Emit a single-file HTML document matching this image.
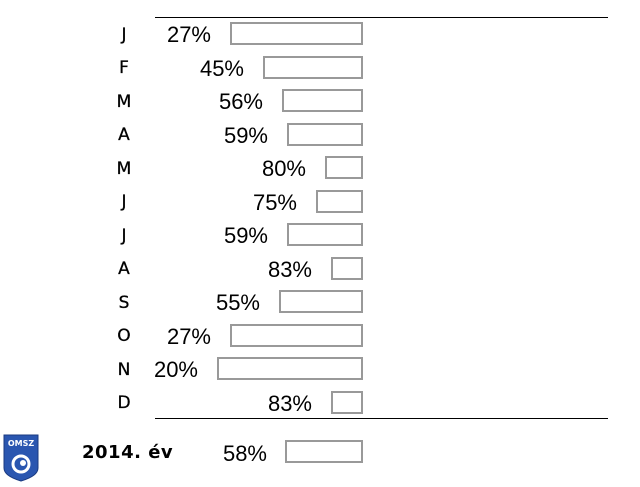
<!DOCTYPE html>
<html><head><meta charset="utf-8"><style>
html,body{margin:0;padding:0;background:#fff;width:640px;height:487px;overflow:hidden}
</style></head><body>
<svg width="640" height="487" xmlns="http://www.w3.org/2000/svg">
<line x1="155" y1="17.5" x2="608" y2="17.5" stroke="#000" stroke-width="1"/>
<line x1="155" y1="418.5" x2="608" y2="418.5" stroke="#000" stroke-width="1"/>
<g font-family="DejaVu Sans, sans-serif" font-size="17" fill="#000" stroke="#000" stroke-width="0.3" text-anchor="middle">
<text x="124" y="40">J</text><text x="124" y="73">F</text><text x="124" y="107">M</text>
<text x="124" y="140">A</text><text x="124" y="174">M</text><text x="124" y="207">J</text>
<text x="124" y="241">J</text><text x="124" y="274">A</text><text x="124" y="308">S</text>
<text x="124" y="341">O</text><text x="124" y="375">N</text><text x="124" y="408">D</text>
</g>
<g font-family="Liberation Sans, sans-serif" font-size="22" fill="#000" text-anchor="end">
<text x="211" y="42">27%</text><text x="244" y="76">45%</text><text x="263" y="109">56%</text>
<text x="268" y="143">59%</text><text x="306" y="176">80%</text><text x="297" y="210">75%</text>
<text x="268" y="243">59%</text><text x="312" y="277">83%</text><text x="260" y="310">55%</text>
<text x="211" y="344">27%</text><text x="198" y="377">20%</text><text x="312" y="411">83%</text>
<text x="267" y="461">58%</text>
</g>
<g fill="#fff" stroke="#999" stroke-width="2">
<rect x="231" y="23" width="131" height="21"/>
<rect x="264" y="57" width="98" height="21"/>
<rect x="283" y="90" width="79" height="21"/>
<rect x="288" y="124" width="74" height="21"/>
<rect x="326" y="157" width="36" height="21"/>
<rect x="317" y="191" width="45" height="21"/>
<rect x="288" y="224" width="74" height="21"/>
<rect x="332" y="258" width="30" height="21"/>
<rect x="280" y="291" width="82" height="21"/>
<rect x="231" y="325" width="131" height="21"/>
<rect x="218" y="358" width="144" height="21"/>
<rect x="332" y="392" width="30" height="21"/>
<rect x="286" y="441" width="76" height="21"/>
</g>
<text x="82" y="458" font-family="DejaVu Sans, sans-serif" font-weight="bold" font-size="18" letter-spacing="0.5" fill="#000">2014. év</text>
<path d="M4 435 H38 V468 Q38 476 21 481 Q4 476 4 468 Z" fill="#2a56b0" stroke="#1a3a80" stroke-width="1"/>
<text x="21" y="446" font-family="DejaVu Sans, sans-serif" font-weight="bold" font-size="8" fill="#fff" text-anchor="middle">OMSZ</text>
<circle cx="21" cy="464" r="8" fill="none" stroke="#fff" stroke-width="3"/>
<circle cx="23" cy="463" r="3" fill="#fff"/>
</svg>
</body></html>
